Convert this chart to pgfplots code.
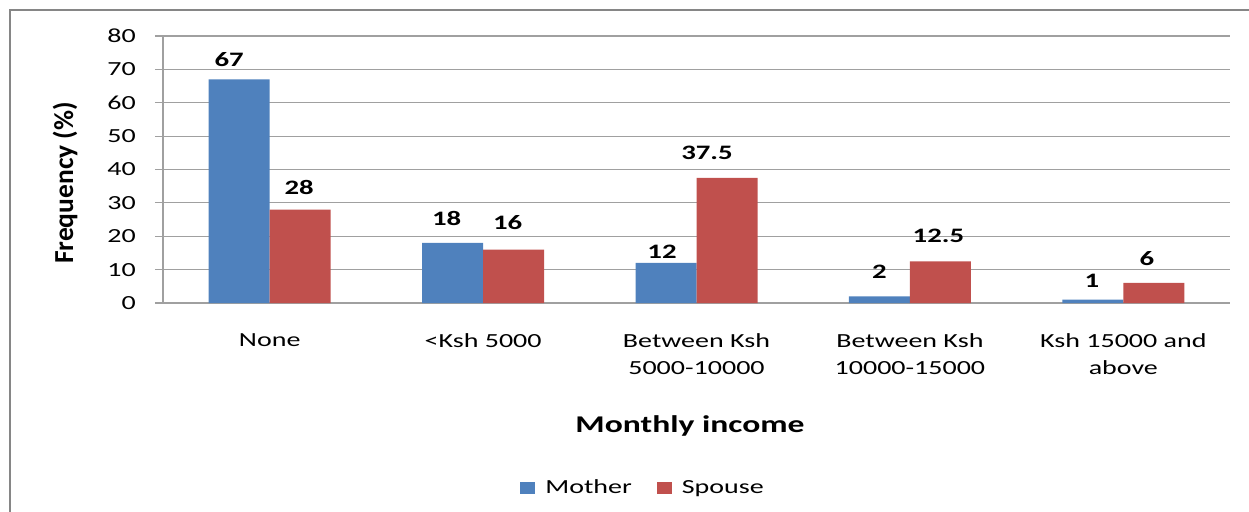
\documentclass[border=0pt]{standalone}
\usepackage{fontspec}
\setmainfont{Carlito}[FakeStretch=1.4]
\newfontfamily\ylabfont{Carlito}
\usepackage{pgfplots}
\pgfplotsset{compat=1.18}
\definecolor{mblue}{HTML}{4F81BD}
\definecolor{mred}{HTML}{C0504D}
\definecolor{gridgray}{HTML}{A0A0A0}
\definecolor{framegray}{HTML}{868686}
\begin{document}
\begin{tikzpicture}[x=0.75pt,y=0.75pt]
\path[use as bounding box] (0,0) rectangle (1249,511);
\draw[framegray, line width=2pt] (10,-20) -- (10,501) -- (1270,501);
\begin{axis}[
  at={(122.25pt,156pt)}, anchor=south west, scale only axis,
  width=800.25pt, height=200.25pt,
  /pgf/number format/assume math mode=true,
  xmin=-0.5, xmax=4.5, ymin=0, ymax=80,
  axis x line=bottom, axis y line=left,
  axis line style={-, draw=gridgray, line width=0.8pt},
  ytick={0,10,...,80},
  xtick={0,1,2,3,4},
  xticklabels={None, <Ksh 5000, Between Ksh\\5000-10000, Between Ksh\\10000-15000, Ksh 15000 and\\above},
  x tick style={draw=none},
  extra x ticks={-0.5,0.5,1.5,2.5,3.5,4.5},
  extra x tick labels={},
  extra x tick style={tick align=outside, major tick length=6pt, tick style={draw=gridgray, line width=0.8pt}},
  y tick style={draw=gridgray, line width=0.8pt},
  tick align=outside, major tick length=6pt,
  ymajorgrids, grid style={draw=gridgray, line width=0.8pt},
  xticklabel style={font=\fontsize{15}{20.25}\selectfont, align=center, anchor=north, inner sep=0pt, yshift=-16.5pt},
  yticklabel style={font=\fontsize{15}{18}\selectfont, anchor=east, inner sep=0pt, xshift=-14.25pt},
  ybar=0pt, bar width=45.75pt,
  nodes near coords,
  every node near coord/.append style={font=\fontsize{15.4}{18}\selectfont\bfseries, anchor=south, inner sep=0pt, xshift=\dx*0.75pt, yshift=\dy*0.75pt},
  legend style={at={(0.449,-0.693)}, anchor=center, draw=none, fill=none,
    font=\fontsize{15}{18}\selectfont, legend columns=2,
    nodes={inner sep=0pt},
    /tikz/every odd column/.append style={column sep=7.5pt},
    /tikz/every even column/.append style={column sep=18.75pt}},
  legend image code/.code={\fill[#1] (0pt,-4.5pt) rectangle (11.25pt,4.5pt);},
]
\addplot[fill=mblue, draw=none,
  visualization depends on={\thisrow{dx} \as \dx},
  visualization depends on={\thisrow{dy} \as \dy}]
  table[x=x, y=y] {
x y dx dy
0 67 -10 12
1 18 -6 17
2 12 -4 4
3 2 0 18
4 1 -1 12
};
\addplot[fill=mred, draw=none,
  visualization depends on={\thisrow{dx} \as \dx},
  visualization depends on={\thisrow{dy} \as \dy}]
  table[x=x, y=y] {
x y dx dy
0 28 -1 15
1 16 -6 20
2 37.5 -20 18
3 12.5 -2 18
4 6 -7 17
};
\legend{Mother, Spouse}
\end{axis}
\node[anchor=base, inner sep=0pt] at (690,79) {\fontsize{18}{22}\selectfont\bfseries Monthly income};
\node[rotate=90, anchor=base, inner sep=0pt] at (73,328) {\ylabfont\fontsize{20.6}{24}\selectfont\bfseries Frequency (\%)};
\end{tikzpicture}
\end{document}
